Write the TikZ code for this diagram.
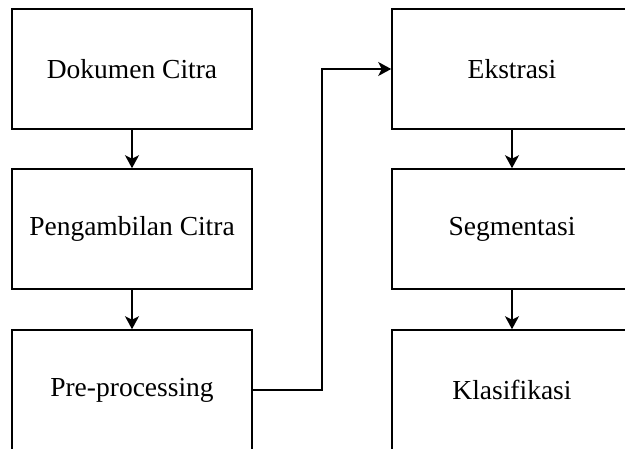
\documentclass[tikz,border=0pt]{standalone}
\usepackage{fontspec}
\setmainfont{Liberation Serif}
\usetikzlibrary{arrows.meta}
\begin{document}
\begin{tikzpicture}[x=1pt,y=1pt,
  stage/.style={draw=black, line width=1.6pt, fill=white, minimum width=240pt, minimum height=120pt,
    inner sep=0pt, font=\fontsize{27.5}{32}\selectfont},
  flow/.style={draw=black, line width=1.6pt, -{Stealth[length=13pt,width=14pt,inset=3.5pt]}}]
  \useasboundingbox (0,0) rectangle (625,448);
  \clip (0,0) rectangle (625,448);
  \fill[white] (0,0) rectangle (625,448);
  % left column
  \node[stage] (dok) at (132,379) {Dokumen Citra};
  \node[stage] (amb) at (132,219) {Pengambilan Citra};
  \node[stage] (pre) at (132,58) {Pre-processing};
  % right column
  \node[stage] (eks) at (512,379) {Ekstrasi};
  \node[stage] (seg) at (512,219) {Segmentasi};
  \node[stage] (kla) at (512,58) {Klasifikasi};
  % connectors
  \draw[flow] (dok.south) -- (amb.north);
  \draw[flow] (amb.south) -- (pre.north);
  \draw[flow] (pre.east) -- (322,58) |- (eks.west);
  \draw[flow] (eks.south) -- (seg.north);
  \draw[flow] (seg.south) -- (kla.north);
\end{tikzpicture}
\end{document}
